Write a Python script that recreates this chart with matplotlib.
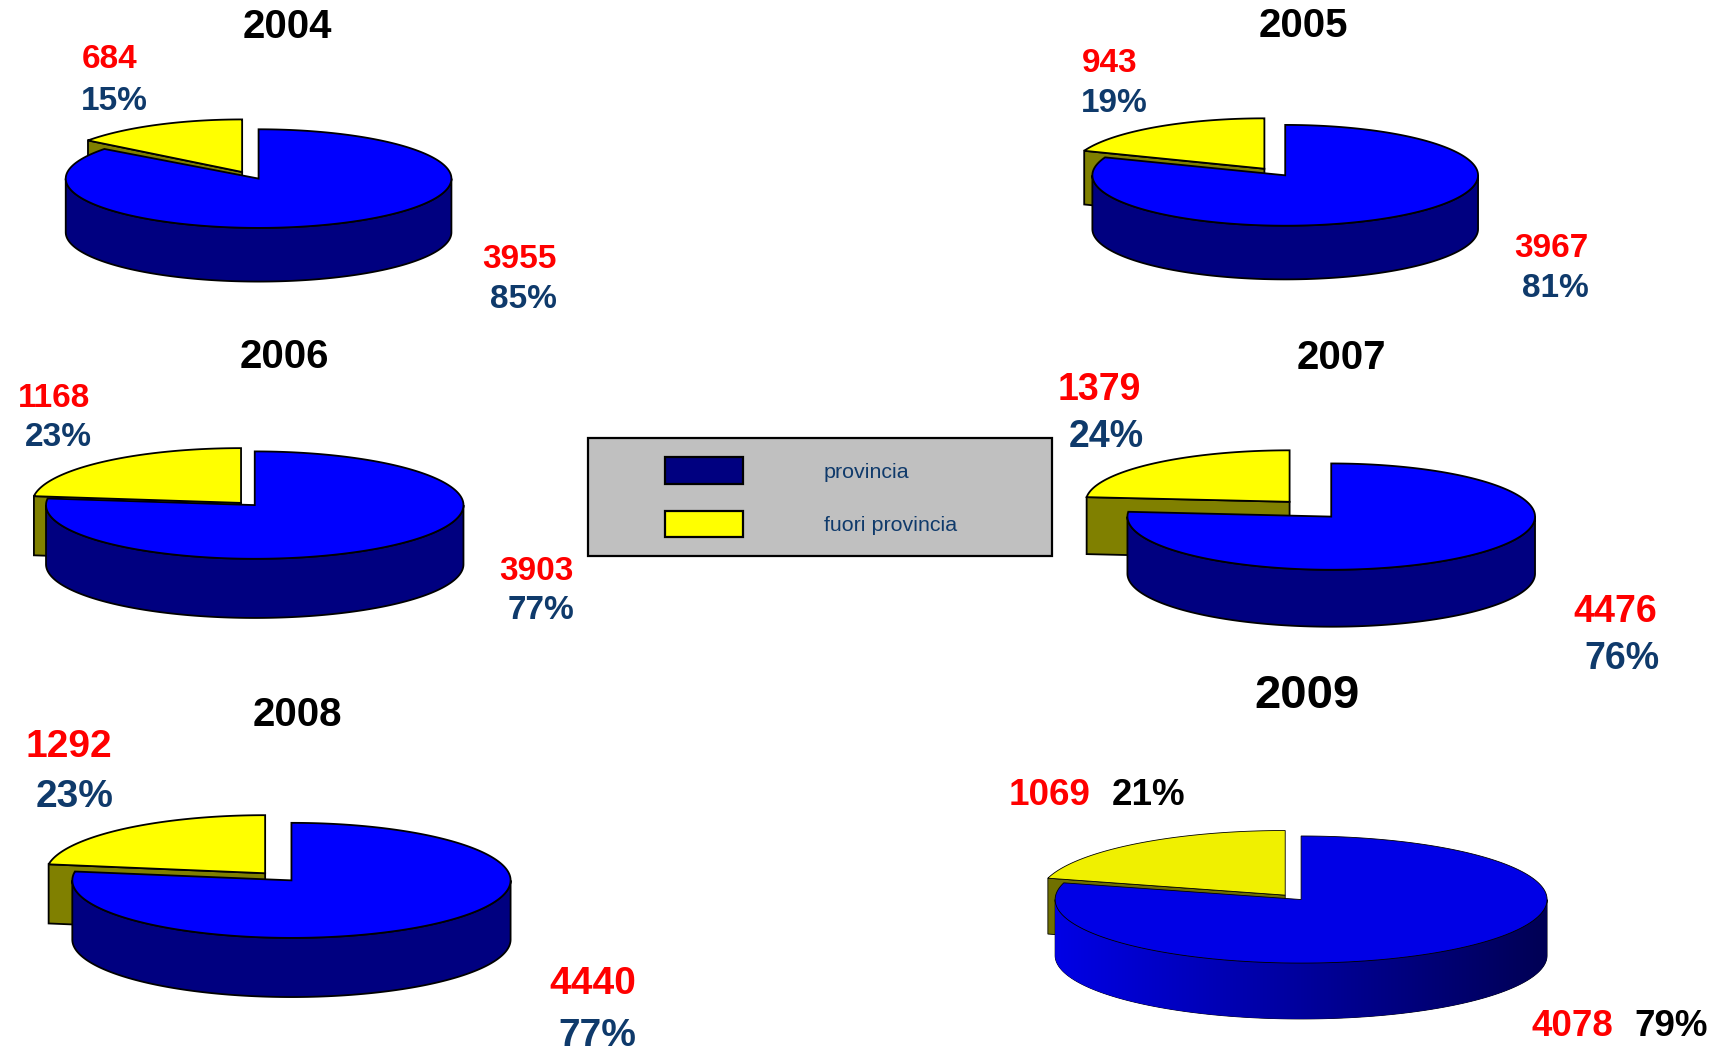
import numpy as np
import matplotlib
matplotlib.use('Agg')
import matplotlib.pyplot as plt
from matplotlib.patches import Rectangle, Polygon

plt.rcParams['font.family'] = ['Liberation Sans', 'DejaVu Sans']

# data
years = ['2004', '2005', '2006', '2007', '2008', '2009']
provincia = [3955, 3967, 3903, 4476, 4440, 4078]
fuori = [684, 943, 1168, 1379, 1292, 1069]
pct_provincia = ['85%', '81%', '77%', '76%', '77%', '79%']
pct_fuori = ['15%', '19%', '23%', '24%', '23%', '21%']
legend_labels = ['provincia', 'fuori provincia']

# layout, in reference units (1568 wide)
# cx, cy, rx, ry, depth of the blue slice
blue_geom = [
    (236, 163, 176, 45, 49),
    (1173, 160, 176, 46, 49),
    (232.5, 461, 190.5, 49, 54),
    (1215, 471.5, 186, 48.5, 52),
    (266, 803.5, 200, 52.5, 54),
    (1187.5, 821, 224.5, 58, 51),
]
# centre of the pulled out yellow slice and its own vertical radius
yellow_centre = [(221, 157), (1154, 154), (220, 459), (1177, 458), (242, 797), (1173, 817)]
yellow_ry = [48, 46, 50, 47, 53, 59]
title_pos = [(262, 22), (1190, 21), (260, 323), (1224, 324), (271, 650), (1193, 633)]
title_size = [29, 29, 29, 29, 29, 34]
fuori_pos = [(100, 52), (1013, 55), (49, 361), (1003, 353), (63, 679), (958, 724)]
fuori_pct_pos = [(104, 90), (1017, 92), (53, 397), (1010, 396), (68, 725), (1048, 724)]
prov_pos = [(474, 234), (1416, 224), (490, 519), (1474, 556), (541, 896), (1435, 934)]
prov_pct_pos = [(478, 271), (1420, 261), (494, 555), (1480, 599), (545, 943), (1525, 934)]
label_size = [24, 24, 24, 27, 28, 26.5]

RED = '#ff0000'
DARKBLUE = '#0f3a6b'
W, H = 1568, 1051 / 1718 * 1568
TEXT_DY = 2.5  # va='center' sits a bit high for digits

fig = plt.figure(figsize=(17.18, 10.51), dpi=100)
ax = fig.add_axes([0, 0, 1, 1])
ax.axis('off')


def arc(cx, cy, rx, ry, t0, t1, n=200):
    # t is clockwise from 12 o'clock
    t = np.linspace(t0, t1, n)
    return np.column_stack([cx + rx * np.sin(t), cy - ry * np.cos(t)])


def label(pos, s, size, color, weight='bold', ha='center', dy=TEXT_DY):
    ax.text(pos[0], pos[1] + dy, s, fontsize=size, fontweight=weight, color=color, ha=ha, va='center')


for i, year in enumerate(years):
    cx, cy, rx, ry, depth = blue_geom[i]
    yx, yy = yellow_centre[i]
    f = fuori[i] / (fuori[i] + provincia[i])
    cut = 2 * np.pi * (1 - f)
    last = i == 5
    lw = 0.6 if last else 1.3
    top_blue = '#0000e6' if last else '#0000ff'
    top_yellow = '#f0f000' if last else '#ffff00'
    olive = '#707000' if last else '#808000'

    # yellow slice
    tip = arc(yx, yy, rx, yellow_ry[i], cut, cut, 1)[0]
    ax.add_patch(Polygon([tip, (yx, yy), (yx, yy + depth), (tip[0], tip[1] + depth)],
                         fc=olive, ec='black', lw=lw))
    pts = np.vstack([[(yx, yy)], arc(yx, yy, rx, yellow_ry[i], cut, 2 * np.pi)])
    ax.add_patch(Polygon(pts, fc=top_yellow, ec='black', lw=lw))

    # blue side wall
    front = arc(cx, cy, rx, ry, np.pi / 2, 3 * np.pi / 2)
    back = front[::-1] + [0, depth]
    wall = Polygon(np.vstack([front, back]), fc='#000080', ec='black', lw=lw)
    ax.add_patch(wall)
    if last:
        # 2009 has a shaded wall
        grad = np.linspace(0, 1, 256).reshape(1, -1, 1)
        c0 = np.array([0, 0, 0.90]).reshape(1, 1, 3)
        c1 = np.array([0, 0, 0.33]).reshape(1, 1, 3)
        im = ax.imshow(c0 + (c1 - c0) * grad, extent=(cx - rx, cx + rx, cy + ry + depth, cy),
                       aspect='auto', zorder=1.5)
        im.set_clip_path(wall)

    # blue top
    pts = np.vstack([[(cx, cy)], arc(cx, cy, rx, ry, 0, cut, 400)])
    ax.add_patch(Polygon(pts, fc=top_blue, ec='black', lw=lw, zorder=2))

    # texts
    label(title_pos[i], year, title_size[i], 'black')
    s = label_size[i]
    pct_col = 'black' if last else DARKBLUE
    label(fuori_pos[i], str(fuori[i]), s, RED)
    label(fuori_pct_pos[i], pct_fuori[i], s, pct_col)
    label(prov_pos[i], str(provincia[i]), s, RED)
    label(prov_pct_pos[i], pct_provincia[i], s, pct_col)

# legend box
ax.add_patch(Rectangle((537, 400), 423, 107, fc='#c0c0c0', ec='black', lw=1.6))
ax.add_patch(Rectangle((607, 417), 71, 25, fc='#000080', ec='black', lw=1.6))
ax.add_patch(Rectangle((607, 466), 71, 24, fc='#ffff00', ec='black', lw=1.6))
label((752, 430), legend_labels[0], 15.4, DARKBLUE, weight='normal', ha='left', dy=1)
label((752, 479), legend_labels[1], 15.4, DARKBLUE, weight='normal', ha='left', dy=1)

ax.set_xlim(0, W)
ax.set_ylim(H, 0)
fig.savefig('out.png', dpi=100, facecolor='white')
